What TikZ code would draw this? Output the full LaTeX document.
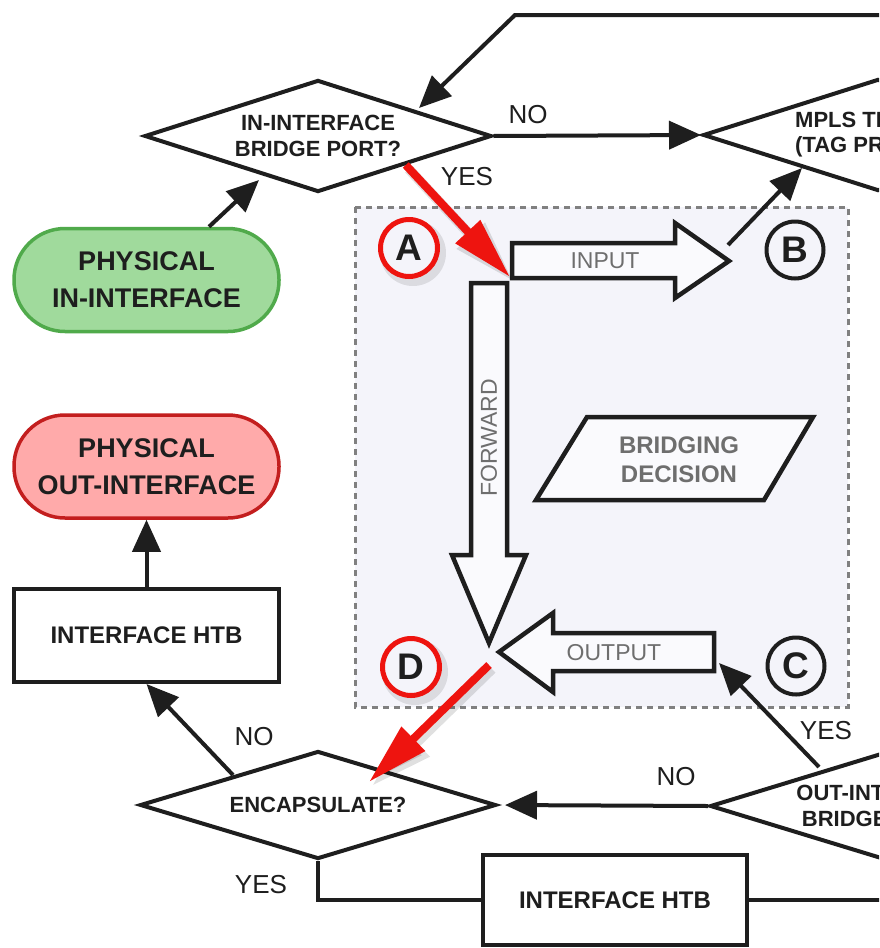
\documentclass[tikz,border=0pt]{standalone}
\usepackage{fontspec}
\setmainfont{Liberation Sans}
\usetikzlibrary{arrows.meta,shapes.geometric,calc}
\definecolor{ink}{RGB}{30,30,30}
\definecolor{gtext}{RGB}{110,110,110}
\definecolor{regionfill}{RGB}{244,244,250}
\definecolor{regionline}{RGB}{128,128,128}
\definecolor{gfill}{RGB}{160,218,156}
\definecolor{gline}{RGB}{80,170,75}
\definecolor{rfill}{RGB}{255,170,170}
\definecolor{rline}{RGB}{195,30,30}
\definecolor{redarrow}{RGB}{238,20,15}
\definecolor{blockfill}{RGB}{250,250,253}
\tikzset{
  conn/.style={line width=4pt, draw=ink, line join=miter},
  arr/.style={conn, -{Triangle[length=32pt,width=28pt]}},
  redarr/.style={line width=8pt, draw=redarrow, -{Triangle[length=62pt,width=32pt]}},
  redshadow/.style={line width=10pt, draw=black, opacity=0.12, -{Triangle[length=62pt,width=36pt]}},
  decision/.style={diamond, aspect=3.2, draw=ink, line width=4pt, fill=white, inner sep=0pt, align=center,
    font=\bfseries\fontsize{22}{26}\selectfont, text=ink},
  procbox/.style={rectangle, draw=ink, line width=4pt, fill=white, inner sep=0pt,
    font=\bfseries\fontsize{24}{28}\selectfont, text=ink},
  terminal/.style={rectangle, rounded corners=51pt, line width=3.5pt, minimum width=265pt,
    minimum height=103pt, align=center, font=\bfseries\fontsize{27}{37}\selectfont, text=ink},
  lbl/.style={font=\fontsize{26}{30}\selectfont, text=ink, inner sep=0pt},
  blocktext/.style={font=\fontsize{23}{26}\selectfont, text=gtext, inner sep=0pt},
  blockarrow/.style={draw=ink, line width=4.5pt, fill=blockfill, line join=miter},
  ringred/.style={circle, draw=redarrow, line width=5pt, minimum size=57pt, inner sep=0pt,
    fill=regionfill, font=\bfseries\fontsize{37}{37}\selectfont, text=ink},
  ringblack/.style={circle, draw=ink, line width=4pt, minimum size=57pt, inner sep=0pt,
    fill=regionfill, font=\bfseries\fontsize{37}{37}\selectfont, text=ink},
}
\begin{document}
\begin{tikzpicture}[x=1pt,y=-1pt]
\useasboundingbox (0,0) rectangle (879,948);
\clip (0,0) rectangle (879,948);
\fill[white] (0,0) rectangle (879,948);

% bridging region
\draw[regionline, fill=regionfill, line width=3pt, dash pattern=on 6pt off 5pt] (355,207) rectangle (848,707);

% block arrows
\draw[blockarrow] (512,243) -- (675,243) -- (675,223) -- (729,261) -- (675,298) -- (675,278) -- (512,278) -- cycle;
\node[blocktext] (inputlbl) at (605,261) {INPUT};
\draw[blockarrow] (471,283) -- (507,283) -- (507,555) -- (526,555) -- (489,643) -- (452,555) -- (471,555) -- cycle;
\node[blocktext, rotate=90] (fwdlbl) at (489,438) {FORWARD};
\draw[blockarrow] (714,633) -- (553,633) -- (553,613) -- (499,652) -- (553,692) -- (553,671) -- (714,671) -- cycle;
\node[blocktext] (outputlbl) at (614,653) {OUTPUT};
\draw[blockarrow] (587,417) -- (813,417) -- (764,500) -- (536,500) -- cycle;
\node[font=\bfseries\fontsize{24}{29}\selectfont, text=gtext, align=center, inner sep=0pt] (bridgelbl) at (679,460) {BRIDGING\\DECISION};

% decisions
\node[decision, minimum width=347pt, minimum height=112pt] (indiam) at (318,136) {IN-INTERFACE\\BRIDGE PORT?};
\node[decision, minimum width=350pt, minimum height=112pt] (mpls) at (878,135) {};
\node[font=\bfseries\fontsize{22}{25}\selectfont, text=ink, anchor=west, align=left, inner sep=0pt] (mplstext) at (795,135) {MPLS TRAFFIC?\\(TAG PRESENT?)};
\node[decision, minimum width=356pt, minimum height=108pt] (encap) at (318,805) {ENCAPSULATE?};
\node[decision, minimum width=350pt, minimum height=108pt] (outdiam) at (885,806) {OUT-INTERFACE\\BRIDGE PORT?};

% terminals and boxes
\node[terminal, fill=gfill, draw=gline] (physin) at (146.5,280) {PHYSICAL\\IN-INTERFACE};
\node[terminal, fill=rfill, draw=rline] (physout) at (146.5,466.5) {PHYSICAL\\OUT-INTERFACE};
\node[procbox, minimum width=265pt, minimum height=93pt] (htbleft) at (146.5,635.5) {INTERFACE HTB};
\node[procbox, minimum width=264pt, minimum height=90pt] (htbbottom) at (615,900) {INTERFACE HTB};

% circle shadows and circles
\fill[black, opacity=0.10] (413,253) circle (33pt);
\fill[black, opacity=0.10] (415,672) circle (33pt);
\node[ringred] (ca) at (409,248) {A};
\node[ringblack] (cb) at (795,250) {B};
\node[ringblack] (cc) at (796,666) {C};
\node[ringred] (cd) at (411,667) {D};

% coordinates
\coordinate (fbstart) at (885,15);
\coordinate (fbcorner) at (515,15);
\coordinate (fbtip) at (419,108);
\coordinate (ginout) at ($(physin.north)+(62.5,0)$);
\coordinate (indin) at (259,180);
\coordinate (bout) at (728,245);
\coordinate (mplsin) at (802,168);
\coordinate (encout) at (233,775);
\coordinate (outup) at (819,767);
\coordinate (outputin) at (719,663);
\coordinate (bottomend) at (885,900);
\coordinate (tipA) at (510,277);
\coordinate (dstart) at (489,665);
\coordinate (tipD) at (369,782);

% connectors
\draw[arr] (fbstart) -- (fbcorner) -- (fbtip);
\draw[arr] (indiam.east) -- (mpls.west);
\draw[arr] (ginout) -- (indin);
\draw[arr] (bout) -- (mplsin);
\draw[arr] (htbleft.north) -- (physout.south);
\draw[arr] (encout) -- (htbleft.south);
\draw[arr, shorten >=7pt] (outdiam.west) -- (encap.east);
\draw[arr] (outup) -- (outputin);
\draw[conn] (encap.south) |- (htbbottom.west);
\draw[conn] (htbbottom.east) -- (bottomend);

% red arrows
\draw[redshadow, transform canvas={shift={(3pt,-4pt)}}] (indiam.south east) -- (tipA);
\draw[redshadow, transform canvas={shift={(3pt,-4pt)}}] (dstart) -- (tipD);
\draw[redarr] (indiam.south east) -- (tipA);
\draw[redarr] (dstart) -- (tipD);

% labels
\node[lbl] (no1) at (528,115) {NO};
\node[lbl] (yes1) at (467,177) {YES};
\node[lbl] (no2) at (254,737) {NO};
\node[lbl] (no3) at (676,777) {NO};
\node[lbl] (yes2) at (826,731) {YES};
\node[lbl] (yes3) at (261,885) {YES};
\end{tikzpicture}
\end{document}
